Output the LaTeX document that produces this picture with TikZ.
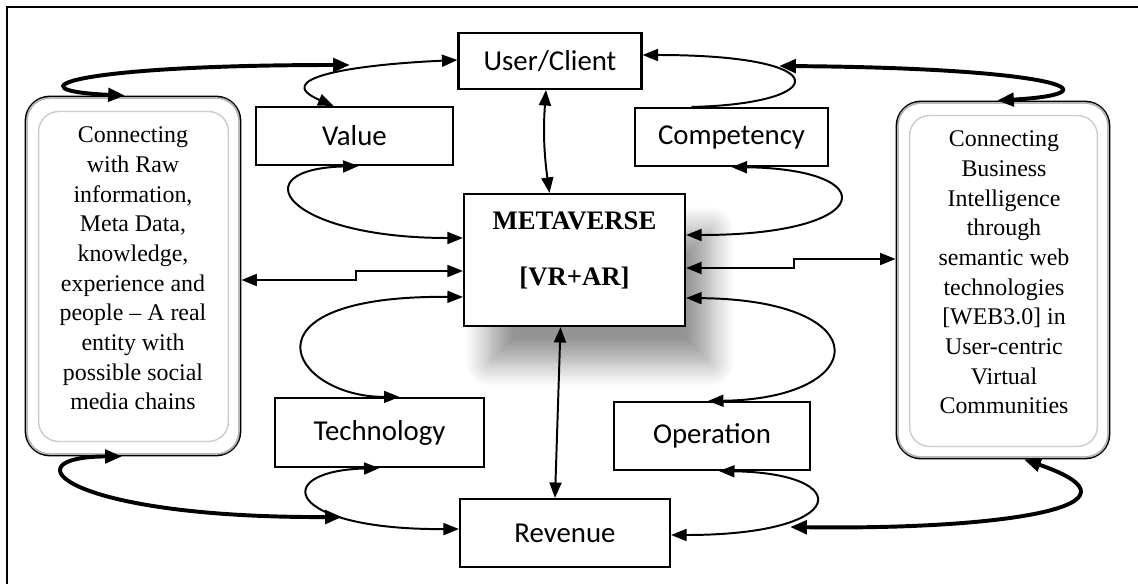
\documentclass[tikz,border=0pt]{standalone}
\usepackage{fontspec}
\setmainfont{Liberation Serif}
\newfontfamily\boxfont{Carlito}
\usetikzlibrary{positioning, arrows.meta, calc, shadows.blur}

\begin{document}
\begin{tikzpicture}[
    x=0.025cm, y=-0.025cm,
    box/.style={rectangle, draw=black, line width=1.5pt, fill=white, inner sep=0pt, font=\boxfont\fontsize{20.5}{24}\selectfont},
    roundbox/.style={rectangle, draw=black, line width=2pt, fill=white, rounded corners=0.6cm},
    bevel/.style={draw=gray!55, line width=1.2pt, rounded corners=0.55cm},
    innerframe/.style={draw=gray!40, line width=1pt, rounded corners=0.5cm},
    infotext/.style={align=center, font=\fontsize{17}{21.1}\selectfont},
    link/.style={{Triangle[length=11pt, width=8.5pt]}-{Triangle[length=11pt, width=8.5pt]}, line width=1.4pt},
    halflink/.style={{Triangle[length=11pt, width=8.5pt]}-, line width=1.4pt},
    biglink/.style={{Triangle[length=12pt, width=9.5pt]}-{Triangle[length=12pt, width=9.5pt]}, line width=2.8pt}
]

\useasboundingbox (0,0) rectangle (1138,584);

% Frame
\draw[line width=1.8pt] (7,584) -- (7,7) -- (1138,7);

% === Side boxes ===
\node[roundbox, minimum width=5.35cm, minimum height=8.95cm] (lbox) at (133,276) {};
\draw[bevel] ($(lbox.north west)+(2.5,2.5)$) rectangle ($(lbox.south east)+(-2.5,-2.5)$);
\draw[innerframe] ($(lbox.north west)+(14,16)$) rectangle ($(lbox.south east)+(-13,-15)$);
\node[infotext] (ltxt) at ($(lbox.center)+(0,-7.5)$) {Connecting\\with Raw\\information,\\Meta Data,\\knowledge,\\experience and\\people -- A real\\entity with\\possible social\\media chains};

\node[roundbox, minimum width=5.3cm, minimum height=8.9cm] (rbox) at (1003,280) {};
\draw[bevel] ($(rbox.north west)+(2.5,2.5)$) rectangle ($(rbox.south east)+(-2.5,-2.5)$);
\draw[innerframe] ($(rbox.north west)+(14,15)$) rectangle ($(rbox.south east)+(-13,-13)$);
\node[infotext] (rtxt) at ($(rbox.center)+(1,-7.5)$) {Connecting\\Business\\Intelligence\\through\\semantic web\\technologies\\{[WEB3.0]} in\\User-centric\\Virtual\\Communities};

% === Centre ===
\node[box, minimum width=5.525cm, minimum height=3.3cm,
      blur shadow={shadow xshift=18pt, shadow yshift=-26pt, shadow blur radius=17pt, shadow blur steps=12, shadow opacity=42}] (meta) at (574.5,260) {};
\node[align=center, font=\bfseries\fontsize{19}{39.8}\selectfont] (metatxt) at ($(meta.center)+(0,-10)$) {METAVERSE\\{[VR+AR]}};

% === Small boxes ===
\node[box, minimum width=4.575cm, minimum height=1.4cm] (user) at (550,61) {User/Client};
\node[box, minimum width=4.925cm, minimum height=1.45cm] (val) at (354.5,136) {Value};
\node[box, minimum width=4.825cm, minimum height=1.45cm] (comp) at (731.5,137) {Competency};
\node[box, minimum width=5.225cm, minimum height=1.725cm] (tech) at (379.5,432.5) {Technology};
\node[box, minimum width=4.9cm, minimum height=1.7cm] (oper) at (712,436) {Operation};
\node[box, minimum width=5.25cm, minimum height=1.7cm] (rev) at (565,533) {Revenue};

% Free ends of the thick links
\coordinate (topl) at (350,65);
\coordinate (topr) at (779,66);
\coordinate (botl) at (342,517);
\coordinate (botr) at (790,527);

% === Top links ===
\draw[link] ($(val.north)+(-21,0)$) .. controls +(-63,-27) and +(-110,5) .. ($(user.west)+(0,-1)$);
\draw[biglink] ($(lbox.north)+(-8,0)$) .. controls +(-115,-5) and +(-285,0) .. (topl);
\draw[halflink] ($(user.east)+(0,-6)$) .. controls +(198,0) and +(138,-3) .. ($(comp.north)+(-40,0)$);
\draw[biglink] ($(rbox.north)+(-6,0)$) .. controls +(123,-7) and +(281,2) .. (topr);

% Value / Competency to METAVERSE
\draw[link] ($(val.south)+(4,0)$) .. controls +(-118,3) and +(-179,0) .. ($(meta.west)+(0,-22)$);
\draw[link] (comp.south) .. controls +(153,2) and +(190,0) .. ($(meta.east)+(0,-25)$);

% Vertical links
\draw[link] ($(user.south)+(-4,0)$) to[bend right=6] ($(meta.north)+(-25,0)$);
\draw[link] ($(meta.south)+(-14,0)$) -- ($(rev.north)+(-10,0)$);

% Side elbows
\draw[link] ($(lbox.east)+(0,4)$) -- ++(115,0) |- ($(meta.west)+(0,11)$);
\draw[link] ($(meta.east)+(0,8)$) -- ++(108,0) |- ($(rbox.west)+(0,-21)$);

% METAVERSE to Technology / Operation
\draw[link] ($(meta.west)+(0,37)$) .. controls +(-229,-2) and +(-110,0) .. ($(tech.north)+(20,0)$);
\draw[link] ($(meta.east)+(0,38)$) .. controls +(195,2) and +(162,-2) .. ($(oper.north)+(-4,0)$);

% === Bottom links ===
\draw[link] (tech.south) .. controls +(-110,3) and +(-175,1) .. ($(rev.west)+(0,-4)$);
\draw[link] ($(oper.south)+(7,0)$) .. controls +(136,2) and +(180,0) .. ($(rev.east)+(0,2)$);
\draw[biglink] ($(lbox.south)+(-11,0)$) .. controls +(-115,0) and +(-280,1) .. (botl);
\draw[biglink] ($(rbox.south)+(21,0)$) .. controls +(136,47) and +(210,3) .. (botr);

\end{tikzpicture}
\end{document}
